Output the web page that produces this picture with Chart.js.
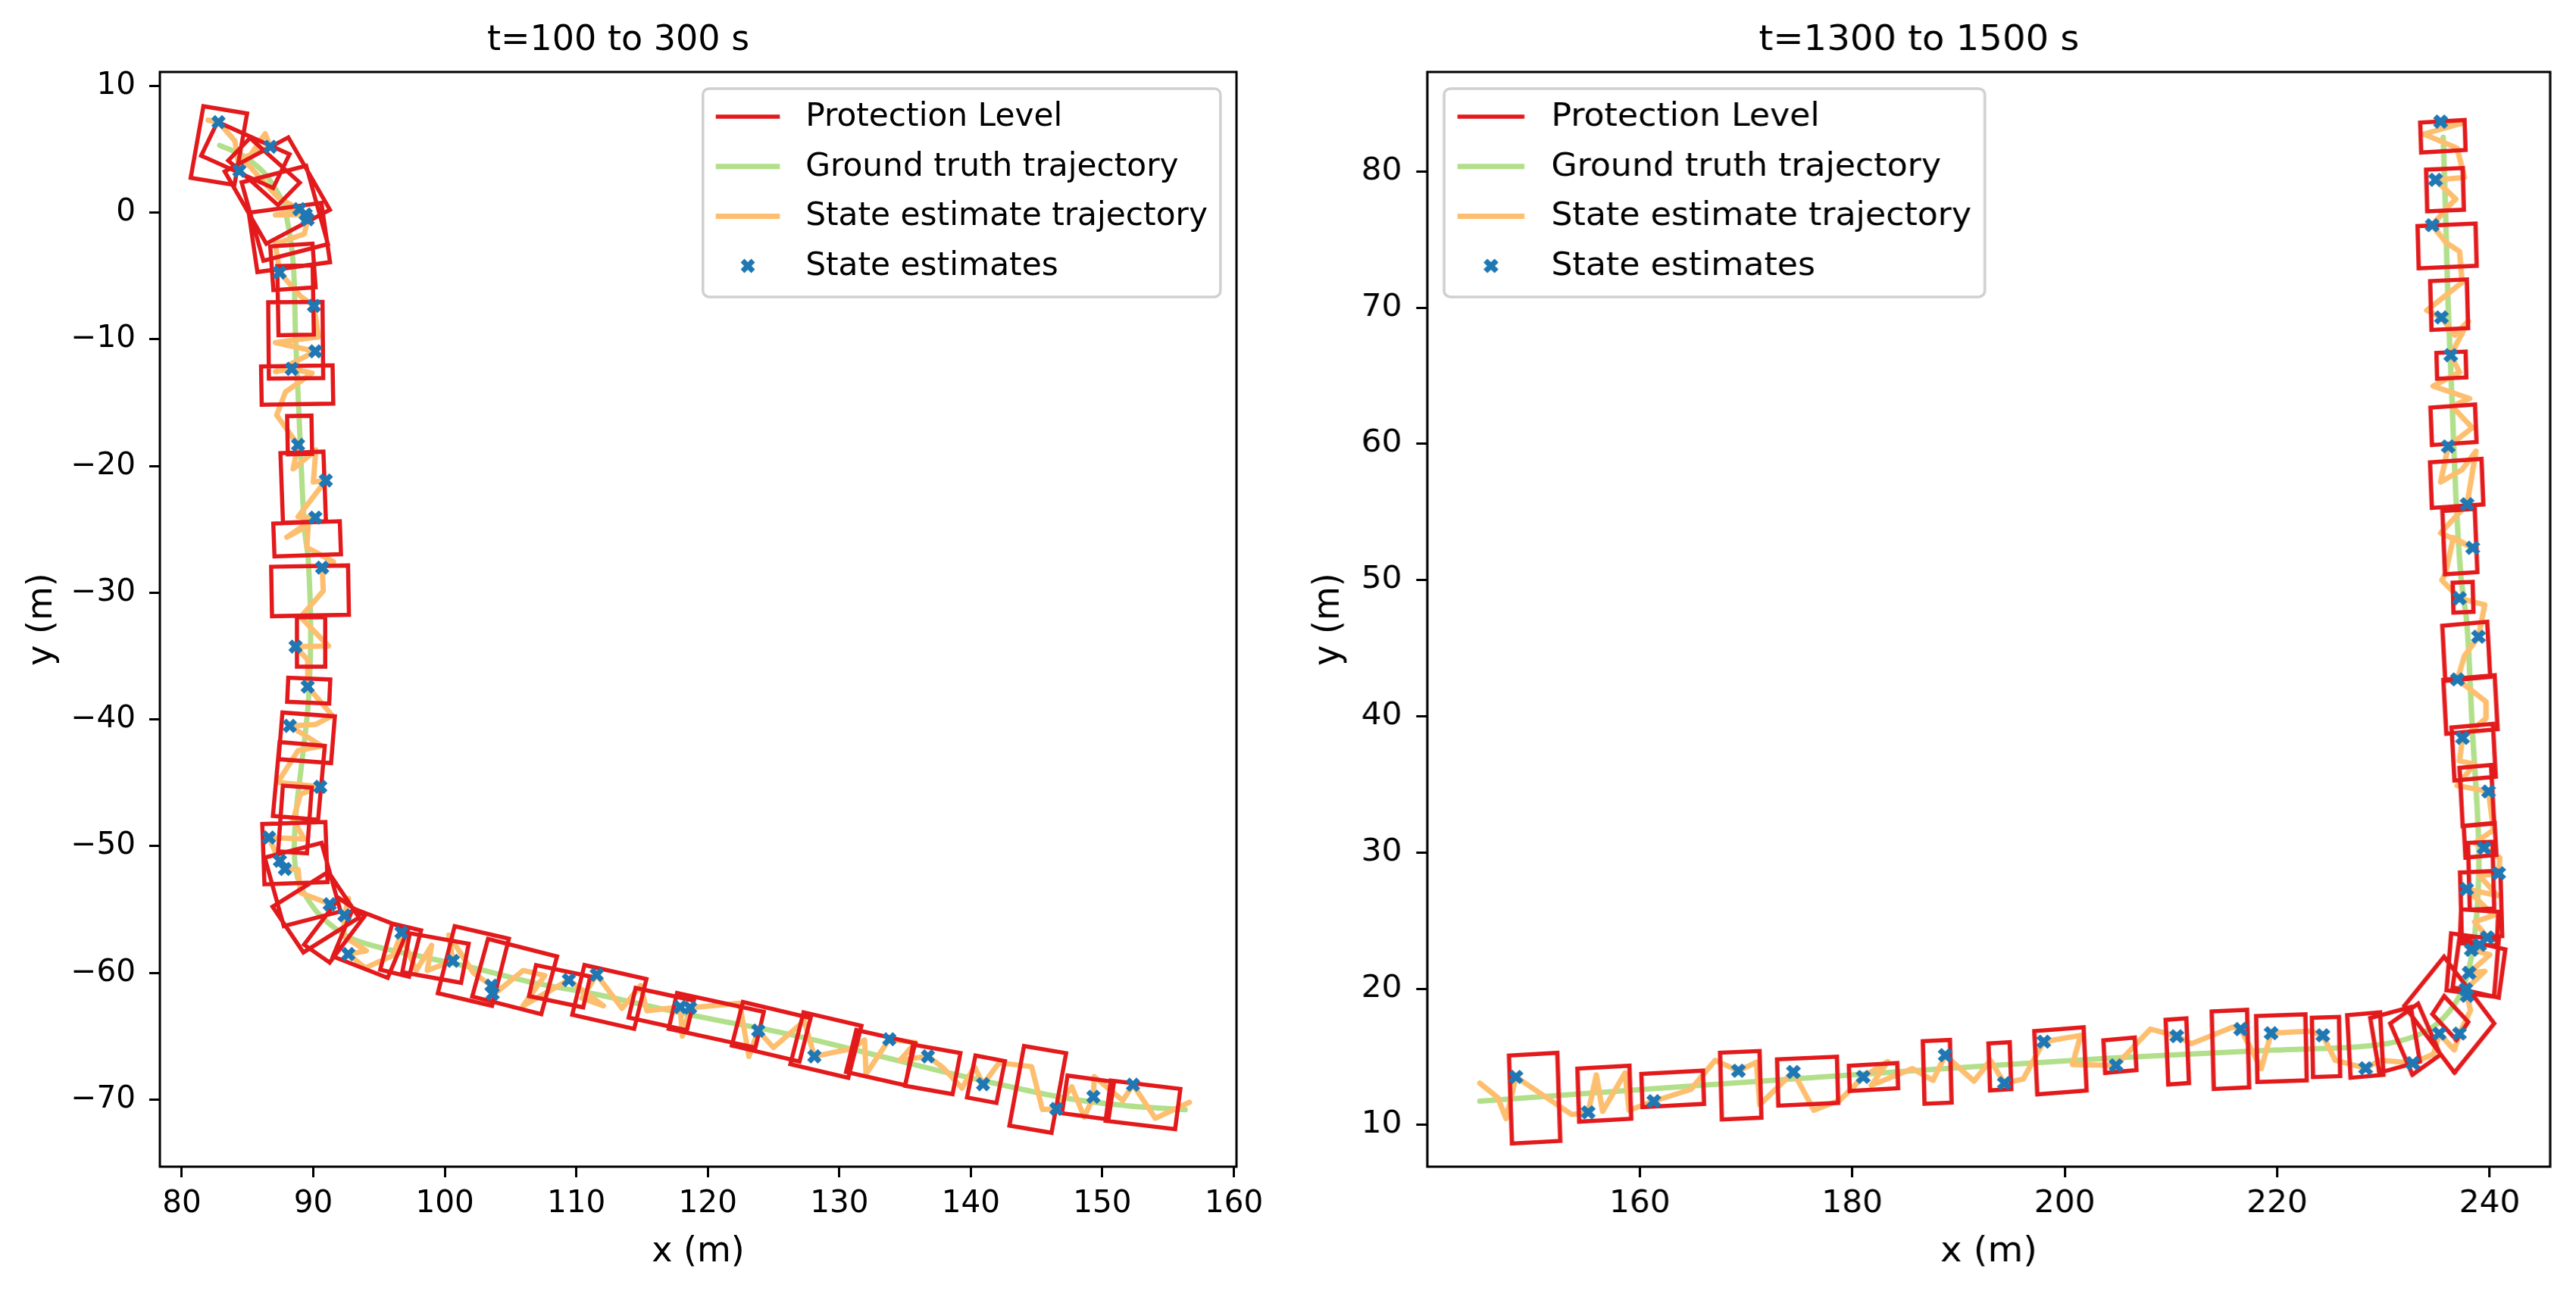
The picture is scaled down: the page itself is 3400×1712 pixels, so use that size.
<!DOCTYPE html>
<html>
<head>
<meta charset="utf-8">
<script src="https://cdn.jsdelivr.net/npm/chart.js@4.4.0/dist/chart.umd.min.js"></script>
<style>
  html, body { margin: 0; padding: 0; background: #fff; }
  #wrap { position: relative; width: 3400px; height: 1712px; overflow: hidden; }
  #leftWrap { position: absolute; left: 0; top: 0; }
  /* right panel of the original is stretched a little horizontally */
  #rightWrap { position: absolute; left: 1700px; top: 0; transform: scaleX(1.0449); transform-origin: 0 0; }
</style>
</head>
<body>
<div id="wrap">
  <div id="leftWrap"><canvas id="chartLeft" width="1700" height="1712"></canvas></div>
  <div id="rightWrap"><canvas id="chartRight" width="1627" height="1712"></canvas></div>
</div>
<script>
// ---- data ----
const legendLabels = ["Protection Level", "Ground truth trajectory", "State estimate trajectory", "State estimates"];

const leftTitle = "t=100 to 300 s";
const leftXTicks = [80, 90, 100, 110, 120, 130, 140, 150, 160];
const leftYTicks = [-70, -60, -50, -40, -30, -20, -10, 0, 10];

const leftTruth = [
  [82.88,5.31],[84.61,4.51],[86.15,3.25],[87.11,1.88],[87.78,0.5],[88.46,-3.85],[88.65,-9.81],
  [88.94,-16.68],[89.32,-24.9],[89.61,-27.34],[89.8,-33.06],[89.61,-38.79],[89.13,-43.37],
  [88.74,-46.8],[88.55,-50.24],[88.78,-52.43],[89.48,-54.03],[90.66,-55.62],[92.77,-57.22],
  [95.13,-58.02],[98.66,-58.81],[102.18,-59.61],[106.89,-60.81],[111.59,-61.71],[116.3,-62.8],
  [121.0,-63.8],[124.6,-64.5],[128.5,-65.4],[133.2,-66.6],[137.9,-67.8],[142.6,-68.9],
  [147.3,-69.9],[152.0,-70.5],[156.3,-70.8]
];

const leftTrajectory = [
  [82.0,7.3],[82.79,7.14],[84.04,5.65],[84.38,3.30],[86.34,6.23],[86.73,5.20],[84.6,4.3],[87.3,1.19],
  [88.94,0.27],[87.11,-0.19],[89.42,-0.14],[89.57,-0.53],[89.32,-1.68],[87.11,-2.48],[87.44,-4.72],
  [89.03,-6.6],[90.05,-7.36],[90.38,-9.81],[87.11,-10.26],[90.15,-10.95],[87.11,-12.55],[88.36,-12.33],
  [89.9,-12.67],[87.88,-14.16],[87.21,-15.99],[88.84,-18.33],[88.46,-20.23],[90.19,-18.74],[90.0,-21.26],
  [90.95,-21.14],[88.84,-24.0],[90.15,-24.07],[87.98,-25.62],[89.61,-24.7],[89.51,-26.42],[91.53,-27.56],
  [90.67,-28.02],[90.76,-29.86],[89.03,-31.92],[91.15,-34.21],[88.65,-34.25],[89.61,-35.35],[89.57,-37.41],
  [91.44,-39.7],[90.19,-40.39],[88.21,-40.51],[90.67,-42.11],[88.84,-42.45],[87.3,-44.97],[90.53,-45.32],
  [89.03,-45.89],[88.46,-47.95],[89.32,-49.44],[86.63,-49.32],[87.3,-50.93],[87.46,-51.16],[87.84,-51.80],
  [88.84,-51.84],[89.03,-53.68],[91.24,-54.55],[92.68,-54.13],[92.37,-55.46],[92.3,-57.11],[94.03,-58.26],
  [92.66,-58.52],[93.95,-59.61],[96.07,-58.62],[96.70,-56.82],[97.24,-58.42],[97.83,-59.81],[99.0,-57.82],
  [98.66,-59.81],[100.61,-59.05],[100.3,-57.02],[102.18,-60.01],[103.55,-61.01],[103.64,-61.65],
  [104.07,-61.41],[105.95,-59.81],[107.6,-60.21],[105.95,-62.6],[109.43,-60.57],[112.06,-62.6],
  [110.42,-62.0],[111.55,-60.15],[113.47,-62.8],[114.89,-61.01],[115.36,-63.0],[117.90,-62.70],
  [118.06,-65.0],[118.65,-62.76],[122.42,-62.4],[123.12,-66.6],[123.83,-64.56],[124.98,-65.9],
  [127.33,-63.8],[128.10,-66.59],[130.86,-66.0],[131.92,-65.3],[132.03,-67.99],[133.80,-65.24],
  [135.8,-65.5],[134.62,-66.89],[136.74,-66.59],[137.91,-67.5],[139.33,-69.1],[140.27,-67.4],
  [140.93,-68.79],[142.15,-67.1],[144.62,-67.4],[145.44,-70.78],[146.50,-70.74],[147.68,-68.99],
  [148.62,-71.38],[149.32,-69.78],[149.39,-68.19],[151.56,-70.08],[152.33,-68.83],[154.03,-71.48],
  [156.62,-70.22]
];

const leftEstimates = [
  [82.79,7.14],[84.38,3.30],[86.73,5.20],[88.94,0.27],[89.42,-0.14],[89.57,-0.53],[87.44,-4.72],
  [90.05,-7.36],[90.15,-10.95],[88.36,-12.33],[88.84,-18.33],[90.95,-21.14],[90.15,-24.07],
  [90.67,-28.02],[88.65,-34.25],[89.57,-37.41],[88.21,-40.51],[90.53,-45.32],[86.63,-49.32],
  [87.46,-51.16],[87.84,-51.80],[91.25,-54.59],[92.37,-55.46],[92.66,-58.52],[96.70,-56.82],
  [100.61,-59.05],[103.55,-61.01],[103.64,-61.65],[109.43,-60.57],[111.55,-60.15],[117.90,-62.70],
  [118.65,-62.76],[123.83,-64.56],[128.10,-66.59],[133.80,-65.24],[136.74,-66.59],[140.93,-68.79],
  [146.50,-70.74],[149.32,-69.78],[152.33,-68.83]
];

// protection level boxes: centre x, centre y, width, height, rotation (deg)
const leftBoxes = [
  [82.82,5.29,3.37,5.73,-9.7],[84.83,4.55,6.04,2.94,-25],[86.25,3.24,5.17,2.43,-43],
  [87.26,1.74,5.53,6.52,29],[87.83,-0.05,5.08,6.4,15],[88.18,-1.96,5.58,4.73,8],
  [88.45,-4.28,3.22,3.45,4],[88.65,-6.92,2.69,5.46,1],[88.66,-10.07,4.13,6.02,0.5],
  [88.77,-13.61,5.44,3.02,1],[88.96,-17.55,1.85,3.02,1],[89.23,-21.67,3.27,5.5,2],
  [89.53,-25.75,5.06,2.6,2],[89.75,-29.85,5.85,3.9,1],[89.83,-33.88,2.15,3.9,0],
  [89.65,-37.73,3.2,1.9,-2.5],[89.5,-41.45,4.0,3.7,-4.5],[88.9,-44.85,3.45,5.85,-5],
  [88.6,-47.9,2.2,5.2,-4],[88.6,-50.55,4.8,4.75,2],[89.19,-53.03,4.47,5.6,15],
  [90.19,-55.21,5.05,4.3,33],[91.6,-56.65,4.53,2.4,54],[94.34,-57.65,4.5,4.1,-22],
  [96.64,-58.2,2.26,3.76,-14],[99.29,-58.83,4.55,3.13,-10.6],[102.17,-59.46,4.24,5.45,-13.6],
  [105.31,-60.29,5.43,4.7,-14.8],[108.73,-61.06,4.22,2.5,-12.3],[112.51,-61.9,4.84,4.04,-13.3],
  [116.46,-62.86,4.54,2.4,-12.7],[120.64,-63.75,6.76,2.89,-12.7],[124.82,-64.65,5.3,3.54,-13.8],
  [128.98,-65.7,4.53,4.22,-13.7],[133.14,-66.69,4.6,3.4,-13.2],[137.11,-67.62,3.66,3.3,-10.4],
  [141.15,-68.4,2.28,3.37,-11],[145.09,-69.2,3.25,6.38,-10],[148.91,-69.84,3.57,3.0,-8],
  [153.09,-70.42,5.33,3.2,-7.1]
];

const rightTitle = "t=1300 to 1500 s";
const rightXTicks = [160, 180, 200, 220, 240];
const rightYTicks = [10, 20, 30, 40, 50, 60, 70, 80];

const rightTruth = [
  [144.94,11.75],[165.57,12.91],[188.75,14.14],[204.2,14.9],[219.7,15.5],[227.4,15.73],[231.3,16.12],
  [234.35,17.04],[236.28,18.42],[237.6,20.25],[238.6,23.92],[238.99,30.03],[238.35,39.4],
  [237.88,46.62],[237.29,50.32],[236.81,56.41],[236.46,63.22],[236.1,70.03],[235.86,76.84],[235.63,82.51]
];

const rightTrajectory = [
  [144.94,13.07],[146.64,12.0],[147.41,10.47],[148.34,13.53],[153.59,10.77],[155.14,10.93],[155.91,13.68],
  [156.5,11.0],[158.61,13.83],[159.0,11.08],[161.32,11.75],[164.8,12.61],[167.1,14.75],[169.28,13.98],
  [170.98,14.6],[171.3,11.5],[174.46,13.89],[176.39,11.08],[178.86,11.84],[181.03,13.53],[183.34,14.66],
  [181.8,12.91],[185.66,14.14],[187.6,13.28],[188.75,15.12],[191.46,13.22],[193.0,14.75],[194.32,13.07],
  [196.09,13.37],[198.03,16.12],[201.5,16.58],[200.73,14.44],[204.83,14.38],[208.07,17.04],[210.55,16.52],
  [211.94,15.97],[215.8,17.19],[216.57,17.04],[218.5,14.14],[219.43,16.74],[223.14,16.89],[224.30,16.58],
  [225.46,14.75],[228.33,14.17],[229.71,14.75],[232.77,14.54],[234.73,15.21],[235.26,16.71],[236.67,15.51],
  [237.16,16.71],[238.2,18.42],[237.88,19.48],[237.76,19.96],[239.54,21.29],[238.07,21.17],[240.01,22.5],
  [238.28,22.86],[239.06,23.22],[239.78,23.77],[238.59,24.91],[240.37,25.39],[237.83,27.32],[240.73,26.84],
  [239.06,28.29],[240.85,28.48],[240.96,29.61],[239.47,30.34],[238.59,30.70],[240.37,31.66],[239.90,34.48],
  [236.93,34.92],[238.59,36.49],[237.16,36.73],[237.45,38.42],[239.66,39.86],[239.66,41.07],[236.97,42.71],
  [237.64,44.45],[238.95,45.84],[239.54,48.18],[237.16,48.67],[235.5,49.99],[235.86,50.5],[236.58,53.12],
  [238.41,52.37],[235.39,53.46],[237.88,55.57],[238.71,59.47],[237.41,58.11],[235.39,57.2],[236.10,59.81],
  [238.36,61.18],[236.46,62.76],[238.12,63.33],[234.68,64.24],[237.17,65.26],[236.34,66.51],[238.0,69.01],
  [236.7,67.99],[235.46,69.28],[234.08,69.8],[237.41,71.85],[237.17,74.12],[235.86,74.8],[234.60,76.05],
  [236.1,77.41],[236.81,77.97],[234.91,79.38],[237.64,79.56],[236.93,81.72],[233.8,82.74],[237.41,83.54],
  [235.39,83.65]
];

const rightEstimates = [
  [148.34,13.53],[155.14,10.93],[161.32,11.75],[169.28,13.98],[174.46,13.89],[181.03,13.53],[188.75,15.12],
  [194.32,13.07],[198.03,16.12],[204.83,14.38],[210.55,16.52],[216.57,17.04],[219.43,16.74],[224.30,16.58],
  [228.33,14.17],[232.77,14.54],[235.26,16.71],[237.16,16.71],[237.88,19.48],[237.76,19.96],[238.07,21.17],
  [238.28,22.86],[239.06,23.22],[239.78,23.77],[237.83,27.32],[240.85,28.48],[239.47,30.34],[239.90,34.48],
  [237.45,38.42],[236.97,42.71],[238.95,45.84],[237.16,48.67],[238.41,52.37],[237.88,55.57],[236.10,59.81],
  [236.34,66.51],[235.46,69.28],[234.60,76.05],[234.91,79.38],[235.39,83.65]
];

const rightBoxes = [
  [235.6,82.58,4.18,2.2,2.5],[235.8,78.66,3.45,3.06,2],[236.0,74.53,5.46,3.1,2],[236.19,70.22,3.45,3.58,2],
  [236.4,65.78,2.75,1.9,2],[236.6,61.4,4.2,2.75,3],[236.9,57.1,4.85,3.35,3],[237.2,52.83,3.05,4.65,3],
  [237.5,48.74,1.88,2.2,2],[237.8,44.77,4.24,4.05,4],[238.2,40.87,4.84,3.97,4],[238.5,37.37,3.9,3.9,4],
  [238.8,34.18,2.97,4.3,4],[239.1,30.9,2.92,2.35,4],[239.2,28.3,2.3,4.9,2],[239.2,26.2,3.8,4.8,2],
  [239.0,24.5,3.5,2.5,-3],[238.4,21.74,4.5,4.2,-6],[239.0,21.5,4.4,3.6,-10],[236.3,17.85,1.73,2.95,50],
  [236.2,18.1,5.2,6.8,44],[233.0,16.3,3.0,4.3,29],[231.1,16.25,3.9,4.1,12],[228.3,15.87,3.1,4.6,4],
  [224.6,15.73,2.55,4.35,1.5],[220.4,15.64,4.64,4.85,1.5],[215.6,15.55,3.33,5.7,2],[210.6,15.4,1.95,4.75,3],
  [205.2,15.12,2.95,2.4,4],[199.6,14.71,4.65,4.65,3.5],[193.9,14.31,2.0,3.45,2.5],[188.0,13.9,2.55,4.6,2],
  [182.0,13.52,4.56,1.85,2.5],[175.8,13.22,5.64,3.4,2],[169.5,12.92,3.72,4.9,2],[163.1,12.65,5.8,2.44,2.4],
  [156.66,12.3,4.9,3.9,2.5],[150.1,11.97,4.55,6.47,2.5]
];

// ---- styling ----
const FONT = "'DejaVu Sans', 'Liberation Sans', sans-serif";
const RED = "#e31a1c";
const GREEN = "#b2df8a";
const ORANGE = "#fdbf6f";
const BLUE = "#1f78b4";
const RED_W = 5.5;
const LINE_W = 7;

Chart.defaults.font.family = FONT;
Chart.defaults.color = "#000";

function toPoints(pairs) {
  return pairs.map(function (p) { return { x: p[0], y: p[1] }; });
}

// outline of every box in data units, boxes split by an empty point
function boxOutlines(boxes) {
  const pts = [];
  boxes.forEach(function (b) {
    const cx = b[0], cy = b[1], w = b[2], h = b[3];
    const a = b[4] * Math.PI / 180;
    const c = Math.cos(a), s = Math.sin(a);
    [[-w/2, -h/2], [w/2, -h/2], [w/2, h/2], [-w/2, h/2], [-w/2, -h/2]].forEach(function (l) {
      pts.push({ x: cx + l[0] * c - l[1] * s, y: cy + l[0] * s + l[1] * c });
    });
    pts.push({ x: null, y: null });
  });
  return pts;
}

function fmt(v) {
  return v < 0 ? "\u2212" + Math.abs(v) : String(v);
}

const framePlugin = {
  id: "frame",
  afterDatasetsDraw(chart) {
    const a = chart.chartArea, ctx = chart.ctx;
    ctx.save();
    ctx.strokeStyle = "#000";
    ctx.lineWidth = 3;
    ctx.strokeRect(a.left, a.top, a.right - a.left, a.bottom - a.top);
    ctx.restore();
  }
};

const boxLegend = {
  id: "boxLegend",
  afterDraw(chart, args, opts) {
    const a = chart.chartArea, ctx = chart.ctx;
    const fs = 42.3;
    ctx.save();
    ctx.font = fs + "px " + FONT;
    let tw = 0;
    legendLabels.forEach(function (t) { tw = Math.max(tw, ctx.measureText(t).width); });
    const w = 3.6 * fs + tw;
    const h = 6.5 * fs;
    const left = opts.side === "right" ? a.right - 0.5 * fs - w : a.left + 0.5 * fs;
    const top = a.top + 0.52 * fs;
    ctx.beginPath();
    ctx.roundRect(left, top, w, h, 8);
    ctx.fillStyle = "rgba(255,255,255,0.8)";
    ctx.fill();
    ctx.strokeStyle = "#d0d0d0";
    ctx.lineWidth = 3.5;
    ctx.stroke();

    const hx0 = left + 0.4 * fs, hx1 = hx0 + 2 * fs;
    const styles = [[RED, RED_W], [GREEN, LINE_W], [ORANGE, LINE_W]];
    for (let i = 0; i < 4; i++) {
      const y = top + 0.875 * fs + i * 1.553 * fs;
      if (i < 3) {
        ctx.strokeStyle = styles[i][0];
        ctx.lineWidth = styles[i][1];
        ctx.beginPath();
        ctx.moveTo(hx0, y);
        ctx.lineTo(hx1, y);
        ctx.stroke();
      } else {
        const cx = (hx0 + hx1) / 2, r = 7;
        ctx.strokeStyle = BLUE;
        ctx.lineWidth = 7;
        ctx.beginPath();
        ctx.moveTo(cx - r, y - r); ctx.lineTo(cx + r, y + r);
        ctx.moveTo(cx - r, y + r); ctx.lineTo(cx + r, y - r);
        ctx.stroke();
      }
      ctx.fillStyle = "#000";
      ctx.textBaseline = "middle";
      ctx.textAlign = "left";
      ctx.fillText(legendLabels[i], left + 3.2 * fs, y + 1);
    }
    ctx.restore();
  }
};

function makeChart(id, c) {
  return new Chart(document.getElementById(id), {
    type: "scatter",
    data: {
      datasets: [
        {
          label: legendLabels[3],
          data: toPoints(c.estimates),
          pointStyle: "crossRot",
          pointRadius: 10,
          borderWidth: 7,
          pointBorderWidth: 7,
          borderColor: BLUE,
          backgroundColor: BLUE,
          order: 0,
        },
        {
          label: legendLabels[0],
          data: boxOutlines(c.boxes),
          showLine: true,
          spanGaps: false,
          pointRadius: 0,
          borderColor: RED,
          borderWidth: RED_W,
          borderJoinStyle: "miter",
          borderCapStyle: "square",
          order: 1,
        },
        {
          label: legendLabels[2],
          data: toPoints(c.trajectory),
          showLine: true,
          pointRadius: 0,
          borderColor: ORANGE,
          borderWidth: LINE_W,
          borderJoinStyle: "round",
          borderCapStyle: "round",
          order: 2,
        },
        {
          label: legendLabels[1],
          data: toPoints(c.truth),
          showLine: true,
          pointRadius: 0,
          borderColor: GREEN,
          borderWidth: LINE_W,
          tension: 0.3,
          borderCapStyle: "round",
          order: 3,
        },
      ],
    },
    options: {
      responsive: false,
      animation: false,
      devicePixelRatio: 1,
      events: [],
      layout: { padding: { left: 0, right: c.padRight, top: 0, bottom: 0 } },
      plugins: {
        legend: { display: false },
        tooltip: { enabled: false },
        title: {
          display: true,
          text: c.title,
          color: "#000",
          font: { size: 46, weight: "normal" },
          padding: { top: 26, bottom: 13.8 },
        },
        boxLegend: { side: c.legendSide },
      },
      scales: {
        x: {
          type: "linear",
          min: c.xMin,
          max: c.xMax,
          afterBuildTicks: function (s) { s.ticks = c.xTicks.map(function (v) { return { value: v }; }); },
          afterFit: function (s) { s.height = 172; },
          ticks: { font: { size: 40.5 }, color: "#000", padding: 11, maxRotation: 0, callback: fmt },
          grid: { drawOnChartArea: false, drawTicks: true, tickLength: 14, tickWidth: 3, tickColor: "#000" },
          border: { display: false },
          title: { display: true, text: "x (m)", color: "#000", font: { size: 46 }, padding: { top: 0, bottom: 31.4 } },
        },
        y: {
          type: "linear",
          min: c.yMin,
          max: c.yMax,
          afterBuildTicks: function (s) { s.ticks = c.yTicks.map(function (v) { return { value: v }; }); },
          afterFit: function (s) { s.width = c.yWidth; },
          ticks: { font: { size: 40.5 }, color: "#000", padding: 18, callback: fmt },
          grid: { drawOnChartArea: false, drawTicks: true, tickLength: 14, tickWidth: 3, tickColor: "#000" },
          border: { display: false },
          title: { display: true, text: "y (m)", color: "#000", font: { size: 46 }, padding: { top: c.yTitlePad, bottom: 0 } },
        },
      },
    },
    plugins: [framePlugin, boxLegend],
  });
}

const chartLeft = makeChart("chartLeft", {
  title: leftTitle,
  estimates: leftEstimates,
  boxes: leftBoxes,
  trajectory: leftTrajectory,
  truth: leftTruth,
  xTicks: leftXTicks,
  yTicks: leftYTicks,
  xMin: 78.33, xMax: 160.2,
  yMin: -75.3, yMax: 11.1,
  yWidth: 211,
  padRight: 68,
  yTitlePad: 28.4,
  legendSide: "right",
});

const chartRight = makeChart("chartRight", {
  title: rightTitle,
  estimates: rightEstimates,
  boxes: rightBoxes,
  trajectory: rightTrajectory,
  truth: rightTruth,
  xTicks: rightXTicks,
  yTicks: rightYTicks,
  xMin: 140.0, xMax: 245.7,
  yMin: 6.94, yMax: 87.3,
  yWidth: 176,
  padRight: 32.7,
  yTitlePad: 24,
  legendSide: "left",
});
</script>
</body>
</html>
